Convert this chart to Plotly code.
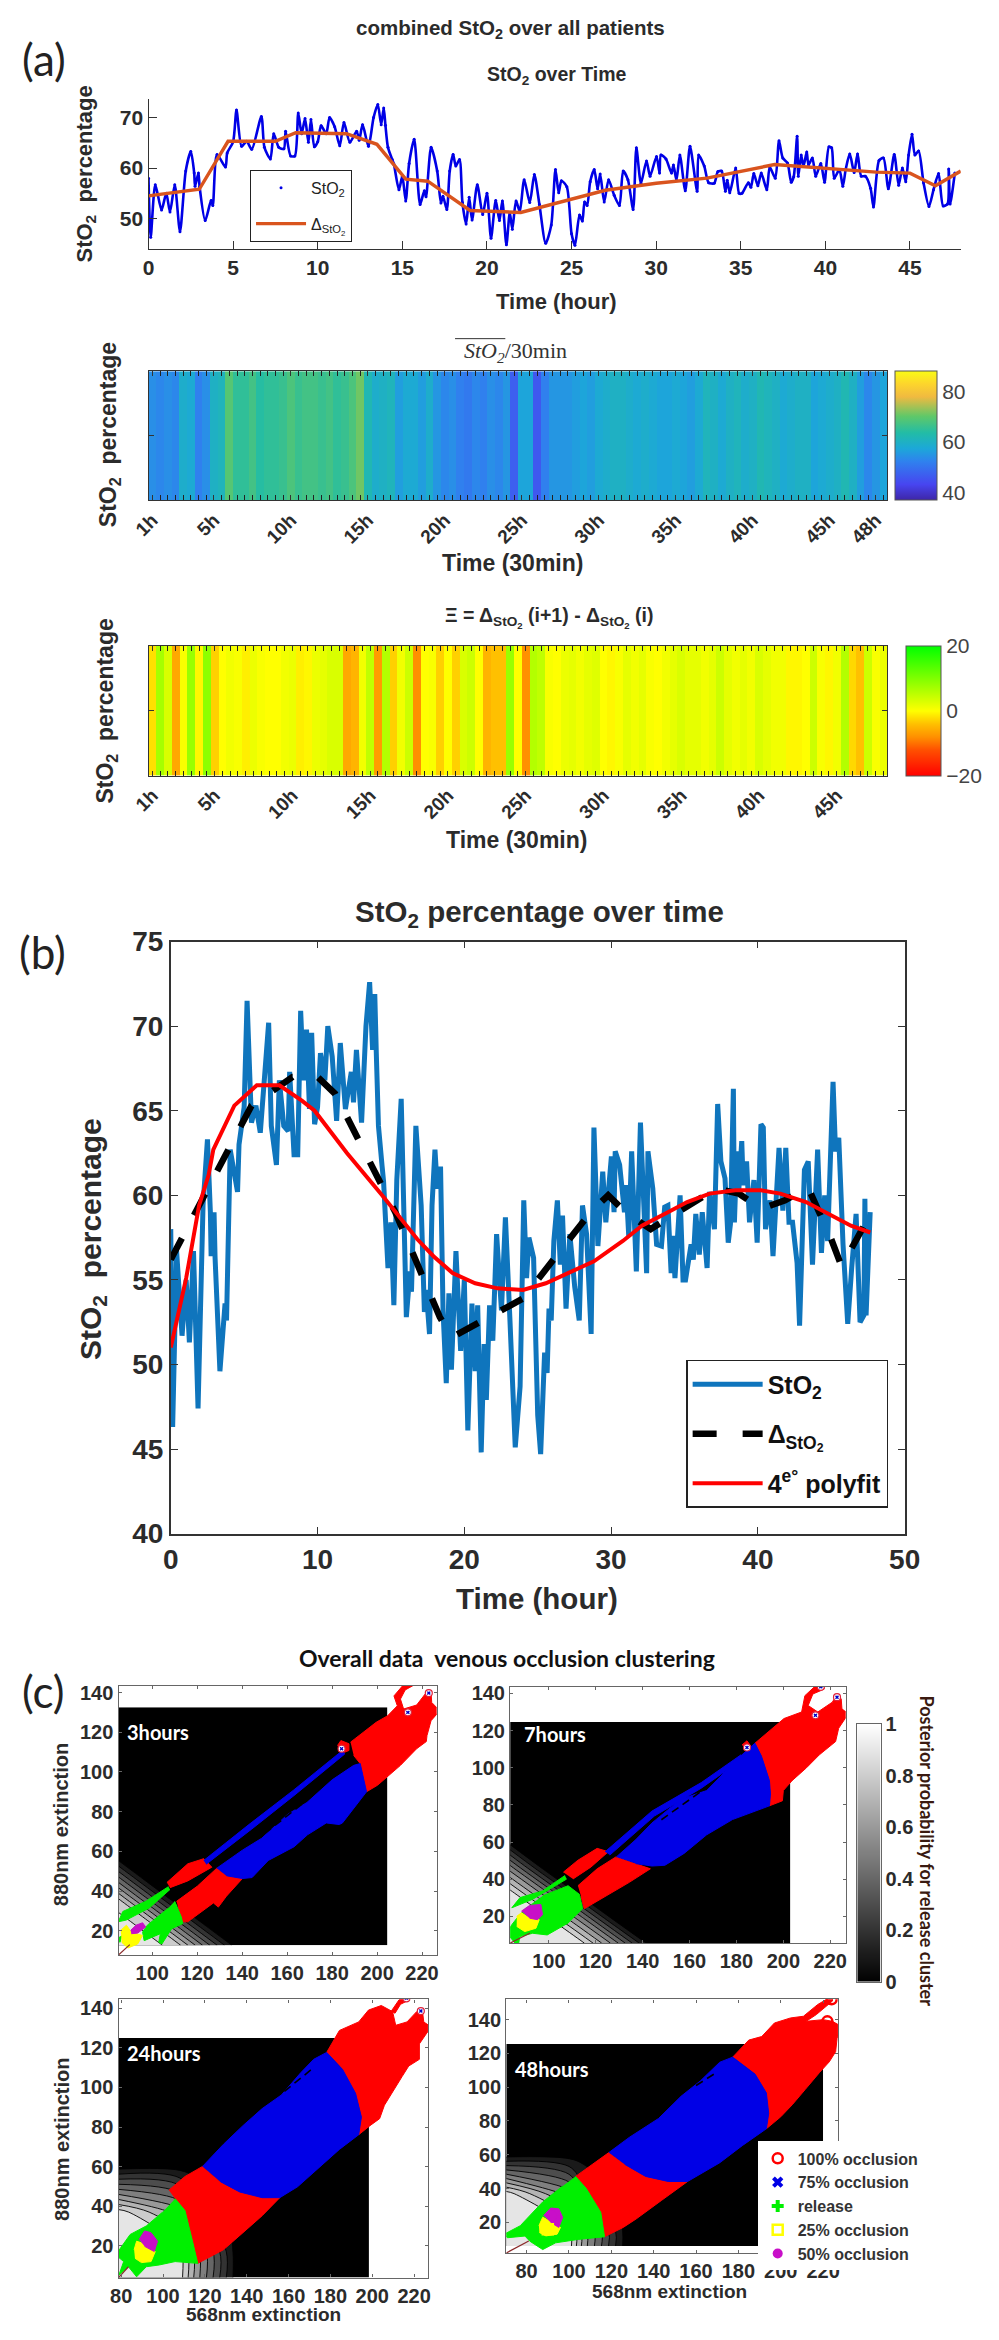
import plotly.graph_objects as go

W, H = 999, 2340
SANS = "Liberation Sans"
CAL = "Lato"
SERIF = "Liberation Serif"
INK = "#2b2b2b"

# ---------------- StO2 series (hours, percent)
HOURS = [0.0,0.13,0.4,0.77,1.05,1.27,1.55,1.86,2.2,2.5,2.7,2.75,2.95,3.02,3.35,3.7,3.8,4.05,4.55,4.65,5.0,5.2,5.5,5.8,6.1,6.67,6.85,7.2,7.4,7.7,8.0,8.1,8.4,8.65,8.85,9.05,9.25,9.45,9.6,9.8,10.0,10.2,10.5,10.7,11.0,11.3,11.55,11.9,12.3,12.45,12.65,13.0,13.3,13.55,13.75,13.9,14.0,14.15,14.4,14.5,14.8,15.0,15.2,15.4,15.7,16.05,16.3,16.4,16.7,17.06,17.28,17.4,17.63,17.8,18.0,18.16,18.38,18.55,18.77,18.95,19.12,19.43,19.75,20.0,20.24,20.52,20.74,20.91,21.15,21.35,21.5,21.72,21.94,22.2,22.53,22.8,23.1,23.47,23.8,24.05,24.24,24.4,24.72,25.0,25.2,25.47,25.64,25.77,25.92,26.1,26.34,26.54,26.69,26.93,27.19,27.52,27.83,28.05,28.33,28.64,28.83,29.1,29.43,29.64,30.02,30.2,30.28,30.58,30.91,31.02,31.2,31.4,31.72,32.0,32.42,32.51,32.84,33.1,33.43,33.65,33.87,34.09,34.2,34.35,34.7,34.9,35.07,35.45,35.6,35.77,36.01,36.21,36.54,36.71,37.04,37.26,37.48,37.76,37.98,38.13,38.33,38.4,38.57,38.7,38.9,39.0,39.23,39.43,39.73,39.95,40.21,40.37,40.52,40.83,41.03,41.2,41.44,41.7,41.9,42.12,42.36,42.67,42.84,43.17,43.43,43.72,44.07,44.33,44.55,44.75,44.92,45.12,45.29,45.51,45.8,46.12,46.39,46.69,46.96,47.22,47.29,47.37,47.65]
STO2 = [58.0,46.3,56.7,51.7,55.0,51.3,56.7,47.4,59.4,63.3,59.0,56.4,59.0,56.3,49.6,53.6,52.6,62.7,60.2,63.0,65.2,71.5,64.3,65.3,63.7,70.2,64.1,61.8,66.8,64.1,63.8,67.3,62.4,62.4,70.9,66.8,69.8,65.1,69.6,64.2,65.2,68.4,66.8,70.0,68.2,64.4,69.0,65.1,67.3,65.5,68.6,64.3,70.0,72.6,68.6,71.9,68.5,64.1,61.7,60.8,55.7,58.4,53.5,60.9,65.7,52.8,55.5,54.3,64.1,59.4,53.1,54.4,51.8,59.4,62.7,60.4,61.7,53.2,48.9,54.2,49.7,56.7,50.8,55.0,46.1,53.6,49.6,53.5,44.8,51.2,47.9,53.5,51.4,57.7,53.2,58.7,52.8,45.1,48.7,59.7,55.1,57.5,56.3,47.0,44.7,50.7,49.5,53.3,52.6,57.3,59.7,55.9,58.8,53.3,57.7,54.6,52.6,59.4,57.7,51.8,64.0,57.0,61.4,58.4,62.3,59.0,62.6,61.8,59.0,60.6,57.6,62.6,55.5,64.3,55.4,62.6,60.4,57.1,57.0,59.3,59.4,55.4,57.6,55.1,60.0,55.0,55.0,57.1,56.2,58.9,56.5,59.0,55.7,60.2,58.0,65.4,62.0,61.0,57.2,58.3,66.3,58.4,62.6,60.3,63.2,60.6,62.0,58.4,60.9,57.2,64.2,64.0,58.0,59.7,56.4,59.7,62.8,59.1,62.8,58.4,58.4,56.0,52.3,61.5,62.0,55.9,62.7,56.6,60.0,57.3,62.6,66.7,62.6,63.4,57.1,52.4,55.7,58.9,52.5,52.9,59.8,52.9,59.0]

# Delta curves
DELTA_A_H = [0,3,4.7,7.5,8.7,11.7,13.5,15.2,16.5,19,22,25,27,30,33,37,40,43,45,46.5,48]
DELTA_A_V = [54.5,55.8,65.3,65.3,67,66.8,64.7,57.8,57.4,51.6,51.2,53.8,55.6,57,58,60.7,60,59.2,59,56.5,59.4]
DELTA_B_H = [0,5.5,8.3,10,11.2,15.3,18.33,19.14,24.0,28.6,29.8,31.1,32.7,37.15,38.7,40.2,41.85,43.4,45.0,45.7,48]
DELTA_B_V = [56.2,65.3,67,67,66,59,52.8,51.6,53.9,59,60,58.9,58,60.4,60.1,59.2,59.7,60.5,57.4,55.8,59.4]
POLY_H = [0,1.05,1.93,2.58,2.9,4.33,5.86,7.4,8.93,9.8,12,14.4,16.8,17.9,19.2,20.74,22.27,24.0,25.55,27.08,28.83,30.8,32.1,33.87,35.18,36.71,38.47,40.2,41.53,43.28,44.81,46.34,47.66]
POLY_V = [51,55.1,59.4,61.2,62.7,65.3,66.5,66.5,65.6,65,62.5,60,57.4,56.4,55.4,54.8,54.5,54.4,54.8,55.4,56.1,57.3,58.2,59.0,59.6,60.1,60.3,60.3,60.1,59.6,58.9,58.2,57.8]

# Half-hour heat strips
MEAN_30MIN = [54,53,54,53,59,58,52,54,60,61, 69,65,65,67,64,65,65,66,68,66, 67,67,66,67,65,66,68,71,62,59,
              60,61,56,58,58,56,59,55,53,54, 52,51,53,52,54,53,55,47,57,57, 46,52,55,55,55,56,57,56,58,59,
              60,60,59,58,59,58,57,57,58,57, 56,58,61,60,58,60,61,59,60,62, 61,60,58,59,60,60,57,58,59,60,
              62,60,56,53,55,57]
XI_30MIN = [-2,7,3,-6,0.5,8,-0.5,9,-3,0, 1,0.5,-1,1.5,0.5,0,0,1,1.5,-1,-0.5,1.5,2,3,3, -6,-5,1,5,-7,6,-3,1,4,-8,
            0,0.5,-3,0,-3,3,4,0,-5,-4,-4,8,0,-8,6,5, 0.5,0,1.5,2,1,2,2.5,0,-0.5,0.5,2,1,2,0.5,0,1,2,3,2,2,1,2,4,2,1,2,1,3,2,1,1,-0.5,-0.5,0,4,0.5,-0.5,1,6,-2.5,-4,4,0.5,1.5]
STRIP_A_TICKS = [1,9,19,29,39,49,59,69,79,89,95]
STRIP_A_LABELS = ["1h","5h","10h","15h","20h","25h","30h","35h","40h","45h","48h"]
STRIP_B_TICKS = [1,9,19,29,39,49,59,69,79,89]
STRIP_B_LABELS = ["1h","5h","10h","15h","20h","25h","30h","35h","40h","45h"]

# Clusters: 3 hours
C1_GX = [85,98,111,124,137,204.6]
C1_GY = [12.7,23.7,34.7,45.7,56.7,132.6]
C1_GZ = [[.9,.9,.8,.4,0,0],[.9,.8,.4,0,0,0],[.8,.4,0,0,0,0],[.4,0,0,0,0,0],[0,0,0,0,0,0],[0,0,0,0,0,0]]
C1_RED = [([188.2,199.6,204.7,209,207.5,211.8,216.8,217.6,212.5,210.4,211.8,217.6,221.9,224,224.3,227.9,224,222.2,221.9,217.6,210.4,200.2,195.3,192.5,189.6],
           [115,125,128.3,133.3,138.3,144,146.3,144.5,141.3,136.7,131.7,133.7,140,140,135,130.8,125.8,118.3,115.3,111.7,103.3,93.3,90,104.2,108.3]),
          ([182.4,183.9,187.5,187.5,183.9],[113.3,115.8,114.2,110.8,109.2]),
          ([106.5,115.8,122.9,126.5,115.8,107.9],[44.3,53.7,56.3,52,45.1,41.7]),
          ([110.8,120.1,128.7,133,140.1,133,129.4,127.2,115.8,113.6,111.5],[34.8,42.5,51.5,47.7,46.3,37.4,31.9,34,24.5,24.5,32])]
C1_BLUE = [([128.7,140.1,148.7,160.2,168.8,180,189.6,192.5,195.3,193.9,184.6,183.2,177.4,169,163.1,151.6,144.4,140.1,133],
            [51.5,60.6,66.6,78.6,84.6,96,103.3,104.2,90,88,74.3,73.5,74.3,68.3,62.3,55.4,46.8,46.3,47.7]),
           ([122.9,143,162.7,184.6,185.6,163.5,144,124],[55.4,73.5,90.7,110.8,109,88.5,71,53.5])]
C1_GREEN = [([107.2,97.1,86.9,84.9,88.5,98.6,107.9],[42.2,34.8,29.7,24.5,25.4,31.4,40.8]),
            ([110,112.9,113.6,108.6,104.3,102.9,103.6,96.4,95.7,97.8,107.2],[34.8,27,23.6,21,13.3,14.2,18.5,15,19.3,22.8,31.4]),
            ([83.5,85.7,86.4],[15.9,14.2,17.6])]
C1_YELLOW = ([86,88.5,90.7,95.7,93.5,89.2,86.4],[20.2,22.8,19.3,17.6,13.3,11.3,14.2])
C1_MAGENTA = ([90.4,92.8,95.7,97.1,93.5,90.7],[20.2,22.8,24,21.9,18.8,18.5])
C1_TIPS = ([215.8,223,213.7,184.2],[145.7,139.7,130,111.7])
C1_STREAK = ([150,168],[69,85])
C1_CORNER = ([85,90],[7.8,13])

# Clusters: 7 hours
C2_GX = [83.5,98.4,113.3,128.1,143,203]
C2_GY = [5.6,19,32.5,46,60,124.6]
C2_GZ = [[.9,.9,.9,.5,0,0],[.9,.9,.5,0,0,0],[.9,.5,0,0,0,0],[.5,0,0,0,0,0],[0,0,0,0,0,0],[0,0,0,0,0,0]]
C2_RED = [([187.9,200.3,207.8,209.2,213.3,217.4,217.4,212.6,210.6,214.7,220.9,223,224.7,225,227.7,223.6,222.3,215.4,209.9,203.7,200,199.6,194.1,194.5,194.1,190.7],
           [113.2,126.5,130,138.8,143.6,144.6,142.3,139.7,133.5,130,135.3,139.7,137,131.7,129,121.2,114.1,107,100,93,87.7,82.2,79.5,85.9,93,106.2]),
          ([182.4,184.5,187.2,185.1],[112.3,114.5,109.7,107.9]),
          ([106.2,112.4,120.6,125.4,117.9,110.3],[43.8,50.2,56.6,54.8,46.5,40.1]),
          ([112.4,120.6,128.6,137,143.3,134.3,124.7,115.1,113.7],[36.5,45.6,52,48.4,45.6,38.3,31,24.1,31])]
C2_BLUE = [([128.8,137,144,156.3,167.3,182.4,187.9,190.7,194.1,194.5,194.1,178.3,167.3,157.7,149.5,144,137],
            [52,61.2,70.3,83.1,87.7,107,113.2,106.2,93,85.9,79.5,72.1,63.9,53.9,47.5,47.1,48.4]),
           ([124,144,165,182,183,165,145,126],[54.8,76.7,92,107,105,89,74,53])]
C2_GREEN = [([106.9,97.3,87.7,84.2,93.1,107.6],[42,33.7,30.1,24.6,29.2,40.1]),
            ([97.3,108.2,113,114.4,108.2,99.3,93.1,87.6,86.9,82.1,84.2,87,90.4],[31,36.5,31.9,24.1,16.4,10,10.9,9.1,3.6,10.9,15.5,20,24.6])]
C2_YELLOW = ([86.3,88.3,91.8,95.9,94.5,89.7,86.3],[20,21.9,19.1,18.2,13.6,11.8,14.6])
C2_MAGENTA = ([88.3,91.8,96.6,97.3,95.2,91.8],[22.8,25.9,26.4,20.9,18.2,19])
C2_TIPS = ([216,222.9,213.7,184.5],[143.6,138,128.2,110.9])
C2_STREAK = ([148,168],[72,90])
C2_CORNER = ([83.5,92],[5.6,11])

# Clusters: 24 hours
C3_GX = [78.75,108,116,135,198.4]
C3_GY = [3.9,17,37,60,125]
C3_GZ = [[.9,.9,.6,0,0],[.9,.9,.6,0,0],[.9,.6,.2,0,0],[0,0,0,0,0],[0,0,0,0,0]]
C3_RED = [([178.2,184.3,193.5,198.2,204.3,209.7,211.2,216.6,221.2,224,224.6,228.2,225.8,222.5,222.5,217.4,214.3,210.5,205.8,203.5,198.9,193.5,194.8,192,185.8],
           [117.7,128.8,133.1,139.1,141.4,138.3,131.4,133.1,138.3,138.3,133.1,130.5,127.1,122,114.2,110.8,105.6,98.8,91,84.2,80.7,76.1,85,97,109.1]),
          ([208.9,212.8,217.4,217.8,213.5,210.8],[138.3,144.3,146,144.3,142,137.4]),
          ([102.8,110.5,118.9,127.4,136.6,147.4,155.8,147.4,138.2,128.9,116.6,114.3,110.5,105.8],[48.1,55,60.1,52.4,47.2,44.3,44.3,35.2,26.6,18,11.1,21.4,37.8,43.8])]
C3_BLUE = [([118.9,128.9,138.2,147.4,156.6,165.8,172,178.2,185.8,192,194.8,193.5,184.3,175.1,164.3,155.8,147.4,136.6,127.4],
            [60.1,71.3,80.7,89.3,96.2,107.4,114.2,117.7,109.1,97,85,76.1,68.7,60.1,49.8,44.3,44.3,47.2,52.4])]
C3_GREEN = [([105.8,110.5,114.3,116.6,105.8,98.2,92,87.4,83.5,78.9,81.2,77.4,84.3,92,99.7],[43.8,37.8,21.4,11.1,12,10.3,9.4,4.3,9.4,5.1,12,15.4,25.7,30,36.9])]
C3_YELLOW = ([86.2,87.4,92,96.3,94.3,89.7,86.6],[18,22.3,20.6,17.1,12,11.5,13.7])
C3_MAGENTA = ([88.6,91.2,94.3,97.4,95.8,91.2],[23.2,27.5,26.6,22.3,17.1,19.7])
C3_TIPS = ([216.3,223.2],[145,138.6])
C3_STREAK = ([158,172],[98,110])
C3_CORNER = ([78.75,83.5],[3.9,9.4])

# Clusters: 48 hours
C4_GX = [70.4,100,107,127,220]
C4_GY = [6,15,37,60,125.6]
C4_GZ = [[.9,.9,.6,0,0],[.9,.9,.6,0,0],[.9,.5,.2,0,0],[0,0,0,0,0],[0,0,0,0,0]]
C4_RED = [([177.3,184.9,191,197,204.6,210.7,217.5,224.4,224.4,216.8,212,220,224.4,228.6,226.6,225.9,222.9,218.3,211.5,205.4,200,193.2,194.3,193.2,187.9],
           [117.8,127.9,130,138,141,142,149,154,151,143,139,140,139,136,129,121,115,108.7,98.6,89.6,82.5,75.4,84.5,96.6,107.7]),
          ([103.1,111.9,118.8,126.4,136.2,146.9,156,143.8,131.7,125.6,116.8,115,108.1],[47.2,55.3,61.3,54.3,47.2,44.2,44.2,33.1,22,17,11.5,26,40.2])]
C4_BLUE = [([118.8,128.6,142.3,152.9,162,171.2,177.3,187.9,193.2,194.3,193.2,181.8,171.2,156,146.9,136.2,126.4],
            [61.3,70.4,81.5,94.6,103.7,114.8,117.8,107.7,96.6,84.5,75.4,65.4,55.3,44.2,44.2,47.2,54.3])]
C4_GREEN = [([103.1,108.1,115,116.8,104.3,93.7,87.6,81.5,79.2,70.9,69.4,77,87.6,96.7],[47.2,40.2,26,11.5,9.9,7.9,3.9,8.9,11.9,10.9,13,18,32.1,41.2])]
C4_YELLOW = ([85.8,87.6,92.2,96,94.4,89.1,86],[18,23,20,17,13,12,14])
C4_MAGENTA = ([88,91.4,95.2,97,95.2,91.4],[24,28.5,28,23,17,20])
C4_STREAK = ([160,170],[101,109])
C4_CORNER = ([70.4,81],[1.9,9])
C4_LEG_X = {"100% occlusion":[224,222], "75% occlusion":[170], "release":[100], "25% occlusion":[90], "50% occlusion":[92]}
C4_LEG_Y = {"100% occlusion":[152,139], "75% occlusion":[90], "release":[25], "25% occlusion":[16], "50% occlusion":[24]}
C_PROB_TICKS = [0,0.2,0.4,0.6,0.8,1]

PARULA = [[0,"#3e26a8"],[.12,"#4745f0"],[.3,"#2f82ee"],[.4,"#1ca8d8"],[.52,"#22bca6"],[.65,"#60c868"],[.8,"#f0ba40"],[.9,"#fdd52c"],[1,"#f9fb15"]]
RYG = [[0,"#ff0000"],[.2,"#ff5000"],[.3,"#ff9000"],[.4,"#ffc000"],[.5,"#ffff00"],[.75,"#80ff00"],[1,"#00ff00"]]
GRAY = [[0,"#000000"],[1,"#ffffff"]]

fig = go.Figure()
layout = {}

def dom_x(l, r): return [l / W, r / W]
def dom_y(t, b): return [1 - b / H, 1 - t / H]

def axes(n, l, r, t, b, xr, yr, xt=None, yt=None, size=18, bold=True, color=INK, line=1.2, lc="#333",
         ticklen=6, mirror=False, xlabels=None, ylabels=None, xangle=0, xshow=True, yshow=True, family=SANS):
    tf = dict(family=family, size=size, color=color, weight=700 if bold else 400)
    layout[f"xaxis{n}"] = dict(domain=dom_x(l, r), range=xr, anchor=f"y{n}", tickmode="array", tickvals=xt,
        ticktext=xlabels if xlabels else None, showticklabels=xshow, ticks="inside", ticklen=ticklen, tickcolor=lc,
        tickwidth=1, showline=True, linecolor=lc, linewidth=line, mirror=mirror, showgrid=False, zeroline=False,
        tickfont=tf, tickangle=xangle, layer="above traces")
    layout[f"yaxis{n}"] = dict(domain=dom_y(t, b), range=yr, anchor=f"x{n}", tickmode="array", tickvals=yt,
        ticktext=ylabels if ylabels else None, showticklabels=yshow, ticks="inside", ticklen=ticklen, tickcolor=lc,
        tickwidth=1, showline=True, linecolor=lc, linewidth=line, mirror=mirror, showgrid=False, zeroline=False,
        tickfont=tf, layer="above traces")

anns = []
def ann(text, x, y, size, family=SANS, bold=True, color=INK, angle=0, anchor="center"):
    t = f"<b>{text}</b>" if bold else text
    anns.append(dict(text=t, x=x / W, y=1 - y / H, xref="paper", yref="paper", showarrow=False, xanchor=anchor,
                     yanchor="middle", textangle=angle, font=dict(family=family, size=size, color=color)))

STO = "StO<sub>2</sub>"
DSTO = "Δ<sub>StO<sub>2</sub></sub>"

# ---- (a) top line
axes(1, 136, 976, 85, 237, [0, 48], [44, 73.7], [0,5,10,15,20,25,30,35,40,45], [50,60,70], size=21, ticklen=8)
fig.add_trace(go.Scatter(x=HOURS, y=STO2, mode="lines", line=dict(color="#0000e6", width=2.6, shape="spline", smoothing=0.7), xaxis="x1", yaxis="y1", showlegend=False))
fig.add_trace(go.Scatter(x=HOURS, y=STO2, mode="markers", marker=dict(color="#0000e6", size=3), xaxis="x1", yaxis="y1", name=STO, legend="legend", legendgroup="a1"))
fig.add_trace(go.Scatter(x=DELTA_A_H, y=DELTA_A_V, mode="lines", line=dict(color="#d9541e", width=3.4), xaxis="x1", yaxis="y1", name=DSTO, legend="legend", legendgroup="a2"))

# ---- (a) heat strips
axes(2, 136, 900, 361, 492, [0.5, 96.5], [0.5, 1.5], STRIP_A_TICKS, [1], size=19, ticklen=5, mirror="ticks",
     xlabels=STRIP_A_LABELS, xangle=-45, yshow=False)
layout["xaxis2"]["minor"] = dict(tickvals=list(range(1, 97)), ticks="inside", ticklen=5, tickcolor="#222", tickwidth=1)
fig.add_trace(go.Heatmap(z=[MEAN_30MIN], x=list(range(1, 97)), y=[1], xaxis="x2", yaxis="y2", zmin=37, zmax=88, colorscale=PARULA,
    colorbar=dict(x=908/W, xanchor="left", xpad=0, y=1-361/H, yanchor="top", ypad=0, len=(492-361)/H, lenmode="fraction", thickness=42,
        outlinewidth=1, outlinecolor="#555", tickvals=[40,60,80], ticks="", tickfont=dict(family=SANS, size=21, color="#444"))))

axes(3, 136, 900, 639, 771, [0.5, 95.5], [0.5, 1.5], STRIP_B_TICKS, [1], size=19, ticklen=5, mirror="ticks",
     xlabels=STRIP_B_LABELS, xangle=-45, yshow=False)
layout["xaxis3"]["minor"] = dict(tickvals=list(range(1, 96)), ticks="inside", ticklen=5, tickcolor="#222", tickwidth=1)
fig.add_trace(go.Heatmap(z=[XI_30MIN], x=list(range(1, 96)), y=[1], xaxis="x3", yaxis="y3", zmin=-20, zmax=20, colorscale=RYG,
    colorbar=dict(x=919/W, xanchor="left", xpad=0, y=1-639/H, yanchor="top", ypad=0, len=(771-639)/H, lenmode="fraction", thickness=35,
        outlinewidth=1, outlinecolor="#555", tickvals=[-20,0,20], ticks="", tickfont=dict(family=SANS, size=21, color="#444"))))

# ---- (b)
axes(4, 159, 918, 939, 1539, [0, 50], [40, 75], [0,10,20,30,40,50], [40,45,50,55,60,65,70,75], size=28, ticklen=7, mirror="ticks", line=1.6)
fig.add_trace(go.Scatter(x=HOURS, y=STO2, mode="lines", line=dict(color="#0f75bd", width=5), xaxis="x4", yaxis="y4", name=STO, legend="legend2", legendgroup="b1"))
fig.add_trace(go.Scatter(x=DELTA_B_H, y=DELTA_B_V, mode="lines", line=dict(color="#000", width=6.5, dash="24px,26px"), xaxis="x4", yaxis="y4", name=DSTO, legend="legend2", legendgroup="b2"))
fig.add_trace(go.Scatter(x=POLY_H, y=POLY_V, mode="lines", line=dict(color="#ff0000", width=4), xaxis="x4", yaxis="y4", name="4<sup>e°</sup> polyfit", legend="legend2", legendgroup="b3"))

# ---- (c)
def cluster(n, gx, gy, gz, red, blue, green, yellow, magenta, streak, corner, tips=None):
    kw = dict(xaxis=f"x{n}", yaxis=f"y{n}", showlegend=False, hoverinfo="skip")
    fig.add_trace(go.Contour(x=gx, y=gy, z=gz, zmin=0, zmax=1, colorscale=GRAY, showscale=False, autocontour=False,
        contours=dict(start=0.05, end=0.95, size=0.1, coloring="fill"), line=dict(color="#000", width=0.9),
        xaxis=f"x{n}", yaxis=f"y{n}", hoverinfo="skip"))
    for group, col in ((red, "#ff0000"), (blue, "#0000e6"), (green, "#00f000"), ([yellow], "#ffff00"), ([magenta], "#c80fc8")):
        for px, py in group:
            fig.add_trace(go.Scatter(x=px, y=py, mode="lines", fill="toself", fillcolor=col, line=dict(color=col, width=1), **kw))
    fig.add_trace(go.Scatter(x=streak[0], y=streak[1], mode="lines", line=dict(color="#000", width=1.6, dash="8px,5px"), **kw))
    fig.add_trace(go.Scatter(x=corner[0], y=corner[1], mode="lines", line=dict(color="#8a2a2a", width=1.2), **kw))
    if tips:
        fig.add_trace(go.Scatter(x=tips[0], y=tips[1], mode="markers", marker=dict(symbol="circle", size=7, color="#ffffff", line=dict(color="#e0203a", width=1.2)), **kw))
        fig.add_trace(go.Scatter(x=tips[0], y=tips[1], mode="markers", marker=dict(symbol="x", size=3.5, color="#0000c8", line=dict(width=0)), **kw))

CX = [100,120,140,160,180,200,220]
CX2 = [80] + CX
CY = [20,40,60,80,100,120,140]
axes(5, 105, 434, 1693, 1966, [85, 226.5], [7.8, 143.5], CX, CY, size=20, ticklen=3, mirror="ticks", lc="#666", line=1.3)
cluster(5, C1_GX, C1_GY, C1_GZ, C1_RED, C1_BLUE, C1_GREEN, C1_YELLOW, C1_MAGENTA, C1_STREAK, C1_CORNER, C1_TIPS)
axes(6, 510, 857, 1694, 1954, [83.5, 226.6], [5.6, 143.7], CX, CY, size=20, ticklen=3, mirror="ticks", lc="#666", line=1.3)
cluster(6, C2_GX, C2_GY, C2_GZ, C2_RED, C2_BLUE, C2_GREEN, C2_YELLOW, C2_MAGENTA, C2_STREAK, C2_CORNER, C2_TIPS)
axes(7, 105, 425, 2011, 2293, [78.75, 226.6], [3.9, 144.5], CX2, CY, size=20, ticklen=3, mirror="ticks", lc="#666", line=1.3)
cluster(7, C3_GX, C3_GY, C3_GZ, C3_RED, C3_BLUE, C3_GREEN, C3_YELLOW, C3_MAGENTA, C3_STREAK, C3_CORNER, C3_TIPS)
axes(8, 506, 849, 2011, 2268, [70.4, 227], [1.9, 152], CX2, CY, size=20, ticklen=3, mirror="ticks", lc="#666", line=1.3)
cluster(8, C4_GX, C4_GY, C4_GZ, C4_RED, C4_BLUE, C4_GREEN, C4_YELLOW, C4_MAGENTA, C4_STREAK, C4_CORNER)

leg_style = [("100% occlusion", "circle-open", "#ff0000"), ("75% occlusion", "x", "#0000e6"), ("release", "cross", "#00f000"),
             ("25% occlusion", "square-open", "#ffff00"), ("50% occlusion", "circle", "#c80fc8")]
for name, sym, col in leg_style:
    fig.add_trace(go.Scatter(x=C4_LEG_X[name], y=C4_LEG_Y[name], mode="markers", name=f"<b>{name}</b>", legend="legend3",
        marker=dict(symbol=sym, size=10, color=col, line=dict(width=2.5 if "open" in sym else 0, color=col)), xaxis="x8", yaxis="y8"))

# probability colour bar for (c): a heatmap on its own axis
axes(9, 869, 893, 1732, 1993, [0, 1], [0, 1], [], C_PROB_TICKS, size=20, ticklen=0, lc="#666", line=1, xshow=False)
layout["yaxis9"].update(side="right", ticks="", ticklabelposition="outside", mirror=True, ticktext=["0","0.2","0.4","0.6","0.8","1"])
layout["xaxis9"].update(mirror=True, ticks="")
PROB_LEVELS = [0,.1,.2,.3,.4,.5,.6,.7,.8,.9,1]
fig.add_trace(go.Heatmap(z=[[v] for v in PROB_LEVELS], y=PROB_LEVELS, x=[0.5], zmin=0, zmax=1, colorscale=GRAY, showscale=False,
                         zsmooth="best", xaxis="x9", yaxis="y9", hoverinfo="skip"))

# ---- texts
ann("combined StO<sub>2</sub> over all patients", 510, 14, 20.5)
ann("(a)", 3, 45, 44, family=CAL, bold=False, color="#222", anchor="left")
ann("StO<sub>2</sub> over Time", 558, 61, 19.5)
ann("Time (hour)", 558, 290, 22)
ann("StO<sub>2</sub>  percentage", 71, 161, 22, angle=-90)
ann("<i>StO<sub>2</sub></i>/30min", 516, 342, 22, family=SERIF, bold=False, color="#333")
ann("Time (30min)", 512, 555, 23)
ann("StO<sub>2</sub>  percentage", 96, 425, 23, angle=-90)
ann("Ξ = Δ<sub>StO<sub>2</sub></sub> (i+1) - Δ<sub>StO<sub>2</sub></sub> (i)", 550, 611, 19.5)
ann("Time (30min)", 517, 836, 23)
ann("StO<sub>2</sub>  percentage", 93, 705, 23, angle=-90)
ann("StO<sub>2</sub> percentage over time", 540, 911, 29.5)
ann("(b)", 0, 950, 44, family=CAL, bold=False, color="#222", anchor="left")
ann("Time (hour)", 538, 1605, 29.5)
ann("StO<sub>2</sub>  percentage", 78, 1240, 30, angle=-90)
ann("(c)", 3, 1698, 44, family=CAL, bold=False, color="#222", anchor="left")
ann("Overall data  venous occlusion clustering", 507, 1665, 23, family=CAL, color="#111")
ann("880nm extinction", 45, 1834, 20, angle=-90)
ann("880nm extinction", 47, 2153, 20, angle=-90)
ann("568nm extinction", 255, 2330, 19)
ann("568nm extinction", 675, 2307, 19)
ann("Posterior probability for release cluster", 941, 1861, 18, family=CAL, color="#3a1a10", angle=90)
ann("3hours", 112, 1740, 20, family=CAL, color="#fff", anchor="left")
ann("7hours", 522, 1742, 20, family=CAL, color="#fff", anchor="left")
ann("24hours", 112, 2065, 20, family=CAL, color="#fff", anchor="left")
ann("48hours", 513, 2082, 20, family=CAL, color="#fff", anchor="left")

shapes = [dict(type="line", xref="paper", yref="paper", x0=453/W, x1=505/W, y0=1-328/H, y1=1-328/H, line=dict(color="#333", width=1))]

layout.update(
    width=W, height=H, margin=dict(l=0, r=0, t=0, b=0), autosize=False, paper_bgcolor="#fff", plot_bgcolor="rgba(0,0,0,0)",
    annotations=anns, shapes=shapes, hovermode=False,
    legend=dict(x=241/W, y=1-157/H, xanchor="left", yanchor="top", bgcolor="#fff", bordercolor="#222", borderwidth=1,
                font=dict(family=SANS, size=16, color="#222"), itemwidth=50, tracegroupgap=12),
    legend2=dict(x=692/W, y=1-1363/H, xanchor="left", yanchor="top", bgcolor="#fff", bordercolor="#222", borderwidth=1.5,
                 font=dict(family=SANS, size=25, color="#111", weight=700), itemwidth=70, tracegroupgap=14),
    legend3=dict(x=766/W, y=1-2155/H, xanchor="left", yanchor="top", bgcolor="#fff", borderwidth=0,
                 font=dict(family=SANS, size=16, color="#333"), itemwidth=30),
)
fig.update_layout(**layout)
fig.write_html("out.html", config={"displayModeBar": False}, post_script="document.body.style.margin='0';")
